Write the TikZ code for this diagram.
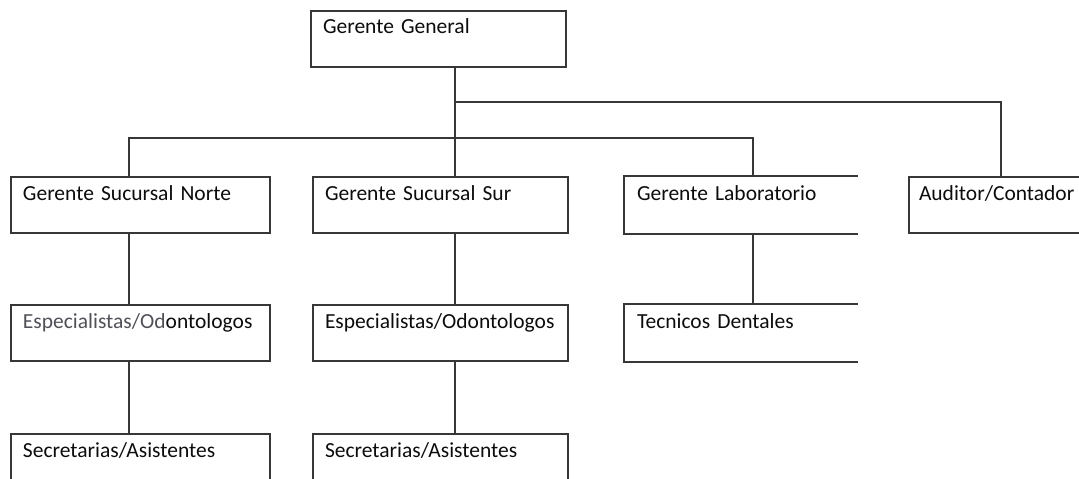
\documentclass[tikz,border=0pt]{standalone}
\usepackage{fontspec}
\setmainfont{Carlito}
\usepackage{xcolor}
\usetikzlibrary{positioning}
\definecolor{LineGray}{RGB}{55,55,55}
\definecolor{InkBlack}{RGB}{12,12,12}
\definecolor{FadedInk}{RGB}{80,80,88}

\begin{document}
\begin{tikzpicture}[x=1pt, y=-1pt, font=\fontsize{21.5}{26}\selectfont, text=InkBlack]
      \tikzset{
        unit/.style={draw=LineGray, line width=2pt, anchor=north west, align=left, inner xsep=12pt, inner ysep=6pt, text height=17pt, text depth=27pt, text width=#1},
        openunit/.style={unit=#1, draw=none},
        link/.style={draw=LineGray, line width=2pt},
        frame/.style={draw=LineGray, line width=2pt}
      }
      \useasboundingbox (0,0) rectangle (1079,479);
      \clip (0,0) rectangle (1079,479);

      \node[unit=231pt] (gg) at (310,10) {Gerente General};

      \node[unit=235pt] (norte) at (10,176) {Gerente Sucursal Norte};
      \node[unit=231pt, right=41pt of norte] (sur) {Gerente Sucursal Sur};
      \node[openunit=208pt, right=55pt of sur] (lab) {Gerente Laboratorio};
      \node[unit=176pt, inner xsep=10pt, text width=180pt, right=50pt of lab] (auditor) {Auditor/Contador};

      \node[unit=235pt, below=70pt of norte] (espnorte) {{\color{FadedInk}Especialistas/Od}ontologos};
      \node[unit=231pt, below=70pt of sur] (espsur) {Especialistas/Odontologos};
      \node[openunit=208pt, below=70pt of lab] (tecnicos) {Tecnicos Dentales};

      \node[unit=235pt, below=71pt of espnorte] (secnorte) {Secretarias/Asistentes};
      \node[unit=231pt, below=71pt of espsur] (secsur) {Secretarias/Asistentes};

      \draw[frame] (lab.north east) -- (lab.north west) -- (lab.south west) -- (lab.south east);
      \draw[frame] (tecnicos.north east) -- (tecnicos.north west) -- (tecnicos.south west) -- (tecnicos.south east);

      \coordinate (colN) at (129,0);
      \coordinate (colS) at (455,0);
      \coordinate (colL) at (753,0);
      \coordinate (colA) at (1001,0);
      \coordinate (bus) at (0,138);
      \coordinate (busR) at (0,102);

      \draw[link] (colS |- gg.south) -- (colS |- sur.north);
      \draw[link] (colN |- norte.north) -- (colN |- bus) -- (colL |- bus) -- (colL |- lab.north);
      \draw[link] (colS |- busR) -| (colA |- auditor.north);

      \draw[link] (colN |- norte.south) -- (colN |- espnorte.north);
      \draw[link] (colS |- sur.south) -- (colS |- espsur.north);
      \draw[link] (colL |- lab.south) -- (colL |- tecnicos.north);
      \draw[link] (colN |- espnorte.south) -- (colN |- secnorte.north);
      \draw[link] (colS |- espsur.south) -- (colS |- secsur.north);
    \end{tikzpicture}
\end{document}
